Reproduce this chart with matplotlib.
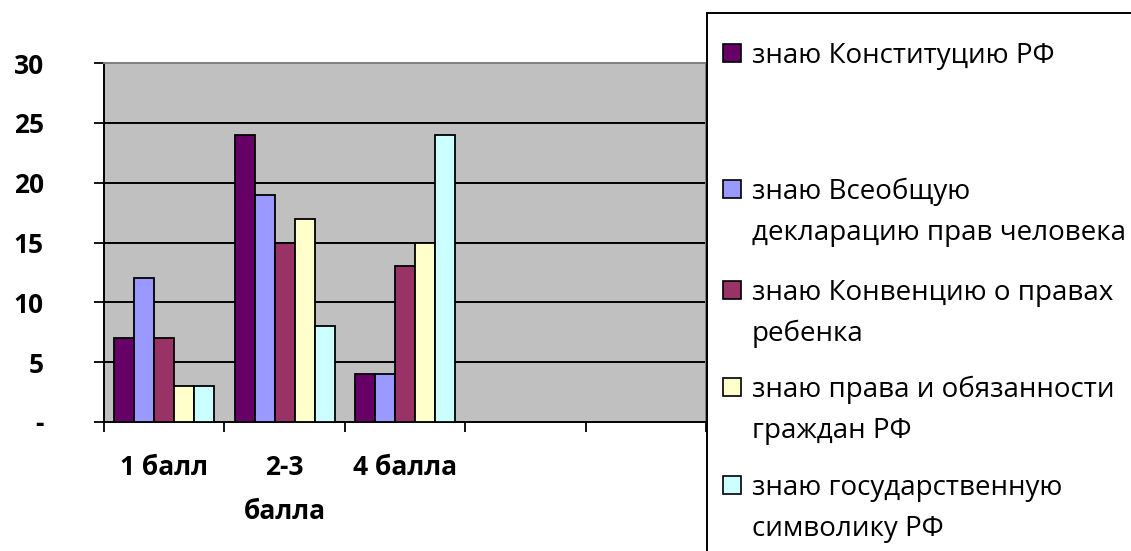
import numpy as np
import matplotlib.pyplot as plt
from matplotlib.patches import Rectangle

categories = ["1 балл", "2-3\nбалла", "4 балла", "", ""]
series_names = [
    "знаю Конституцию РФ",
    "знаю Всеобщую\nдекларацию прав человека",
    "знаю Конвенцию о правах\nребенка",
    "знаю права и обязанности\nграждан РФ",
    "знаю государственную\nсимволику РФ",
]
values = [
    [7, 24, 4],
    [12, 19, 4],
    [7, 15, 13],
    [3, 17, 15],
    [3, 8, 24],
]
colors = ["#660066", "#9999FF", "#993366", "#FFFFCC", "#CCFFFF"]
yticks = [0, 5, 10, 15, 20, 25, 30]
ytick_labels = ["-", "5", "10", "15", "20", "25", "30"]

plt.rcParams["font.family"] = ["Open Sans", "DejaVu Sans"]

W, H = 1131, 551
fig = plt.figure(figsize=(W / 100, H / 100), dpi=100)
ax = fig.add_axes([104 / W, 1 - 422 / H, (706 - 104) / W, (422 - 63) / H])
ax.set_facecolor("#C0C0C0")

n = len(series_names)
bw = 0.166
x = np.arange(len(categories))
for i, (name, vals, c) in enumerate(zip(series_names, values, colors)):
    xs = x[:len(vals)] + (i - (n - 1) / 2) * bw
    ax.bar(xs, vals, width=bw, color=c, edgecolor="black", linewidth=1.3, zorder=3)

ax.set_xlim(-0.5, len(categories) - 0.5)
ax.set_ylim(0, 30)

# gridlines
for y in yticks[1:-1]:
    ax.axhline(y, color="black", lw=1.4, zorder=1)

ax.set_yticks(yticks)
ax.set_yticklabels(ytick_labels, fontweight="bold", fontsize=19)
ax.tick_params(axis="y", length=7.2, width=1.3, pad=36)

ax.set_xticks(np.arange(len(categories) + 1) - 0.5)
ax.set_xticklabels([])
ax.tick_params(axis="x", which="major", length=7.2, width=1.3)
ax.set_xticks(x, minor=True)
ax.set_xticklabels(categories, minor=True, fontweight="bold", fontsize=19,
                   linespacing=1.79)
ax.tick_params(axis="x", which="minor", length=0, pad=23)

for s in ["left", "bottom"]:
    ax.spines[s].set_color("black")
    ax.spines[s].set_linewidth(1.4)
for s in ["top", "right"]:
    ax.spines[s].set_color("#808080")
    ax.spines[s].set_linewidth(1.4)

# legend box, drawn by hand to follow the original spacing
fig.add_artist(Rectangle((707 / W, -0.1), 0.5, 1.1 - 13 / H,
                         transform=fig.transFigure, facecolor="white",
                         edgecolor="black", lw=1.4, zorder=5))
first_line_center = [53, 189, 290, 387, 485]
line_pitch = 41
for name, c, yy in zip(series_names, colors, first_line_center):
    fig.add_artist(Rectangle((723 / W, 1 - (yy + 9) / H), 18 / W, 18 / H,
                             transform=fig.transFigure, facecolor=c,
                             edgecolor="black", lw=1.2, zorder=6))
    for k, line in enumerate(name.split("\n")):
        fig.text(752 / W, 1 - (yy + 10 + k * line_pitch) / H, line,
                 fontsize=20, va="baseline", ha="left", zorder=6)

fig.savefig("out.png", dpi=100)
